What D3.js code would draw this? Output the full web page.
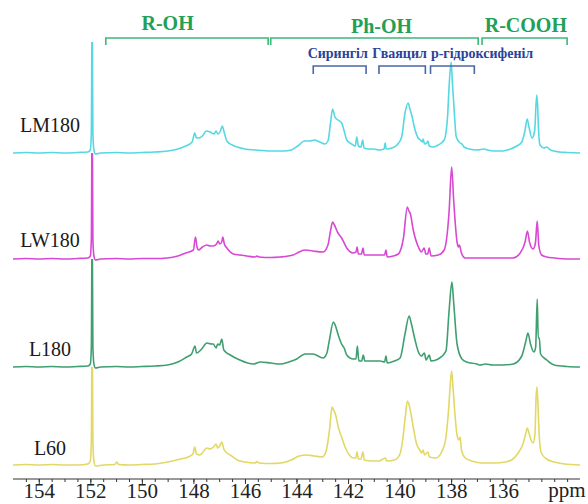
<!DOCTYPE html>
<html>
<head>
<meta charset="utf-8">
<script src="https://cdn.jsdelivr.net/npm/d3@7"></script>
<style>
  body { margin: 0; background: #fff; }
  svg { display: block; }
</style>
</head>
<body>
<svg id="chart" width="588" height="504"></svg>
<script>
/* 31P NMR spectra, four stacked samples */

// spectra: [ppm, intensity] (spike at ~151.9 is off scale)
const lm180 = [
  [155.0, 0], [154.5, 0.5], [154.0, 0], [153.5, 0.5], [153.0, 0], [152.5, 0.5], [152.1, 1],
  [152.0, 3], [151.96, 20], [151.93, 150], [151.9, 20], [151.86, 3], [151.8, -1], [151.6, 0],
  [151.0, 0.5], [150.5, 0], [150.0, 0.5], [149.5, 1], [149.0, 2], [148.6, 4], [148.3, 7],
  [148.05, 11], [147.95, 20], [147.88, 15], [147.8, 15], [147.65, 17], [147.5, 22], [147.35, 21],
  [147.2, 19], [147.12, 22], [147.05, 19], [146.95, 22], [146.88, 27], [146.8, 20], [146.7, 12],
  [146.5, 8], [146.3, 6], [146.0, 4], [145.6, 3], [145.0, 2], [144.5, 2], [144.2, 3],
  [143.9, 8], [143.7, 12], [143.5, 12], [143.3, 13], [143.1, 11], [142.9, 9], [142.78, 12],
  [142.68, 30], [142.6, 44], [142.55, 40], [142.51, 36], [142.39, 33], [142.25, 30], [142.15, 22],
  [142.05, 13], [141.86, 9], [141.72, 7], [141.66, 16], [141.6, 7], [141.5, 6], [141.43, 13],
  [141.38, 5], [141.2, 4], [141.0, 4], [140.8, 3], [140.6, 4], [140.56, 10], [140.52, 4],
  [140.3, 5], [140.1, 8], [139.92, 16], [139.79, 40], [139.67, 50], [139.6, 44], [139.53, 38],
  [139.4, 23], [139.28, 15], [139.2, 13], [139.12, 11], [139.09, 14], [139.03, 9], [138.95, 10],
  [138.9, 12], [138.85, 7], [138.7, 6], [138.5, 8], [138.27, 13], [138.14, 36], [138.08, 66],
  [138.0, 91], [137.95, 70], [137.9, 50], [137.8, 16], [137.65, 10], [137.58, 9], [137.5, 6],
  [137.3, 4], [137.0, 3], [136.7, 4], [136.6, 3], [136.3, 2], [136.0, 2], [135.7, 4],
  [135.45, 7], [135.26, 11], [135.13, 23], [135.05, 34], [134.98, 26], [134.86, 15], [134.76, 22],
  [134.68, 58], [134.64, 45], [134.62, 30], [134.55, 8], [134.4, 5], [134.29, 6], [134.15, 3],
  [133.8, 1], [133.5, 0.5], [133.0, 0]
];

const lw180 = [
  [155.0, 0], [154.5, 0.5], [154.0, 0], [153.5, 0.5], [153.0, 0], [152.5, 0.5], [152.1, 1],
  [152.0, 3], [151.96, 20], [151.93, 150], [151.9, 20], [151.86, 3], [151.8, -1], [151.6, 0],
  [151.0, 0.5], [150.5, 0], [150.0, 0.5], [149.5, 0.5], [149.02, 1], [148.6, 3], [148.3, 6],
  [148.0, 9], [147.92, 22], [147.86, 12], [147.8, 9], [147.65, 12], [147.48, 14], [147.35, 13],
  [147.24, 13], [147.1, 15], [147.04, 18], [146.98, 15], [146.9, 17], [146.86, 22], [146.8, 15],
  [146.7, 11], [146.45, 5], [146.2, 4], [145.93, 3], [145.6, 2], [145.54, 3], [145.45, 2],
  [145.0, 1.5], [144.64, 2], [144.13, 4], [143.9, 7], [143.67, 9], [143.36, 8], [142.97, 7],
  [142.78, 14], [142.68, 28], [142.6, 37], [142.53, 34], [142.39, 26], [142.25, 21], [142.05, 11],
  [141.81, 6], [141.69, 7], [141.65, 12], [141.6, 5], [141.48, 5], [141.42, 11], [141.37, 4],
  [141.0, 4], [140.76, 4], [140.58, 4], [140.53, 9], [140.48, 2], [140.25, 3], [140.05, 5],
  [139.85, 21], [139.7, 52], [139.64, 48], [139.59, 46], [139.47, 29], [139.27, 12], [139.15, 7],
  [139.05, 11], [138.98, 5], [138.91, 5], [138.85, 11], [138.78, 3], [138.5, 4], [138.27, 9],
  [138.08, 47], [137.98, 92], [137.9, 58], [137.77, 17], [137.72, 12], [137.68, 14], [137.6, 6],
  [137.46, 1], [137.0, 1], [136.5, 1], [136.0, 1], [135.6, 1], [135.32, 6], [135.13, 17],
  [135.04, 28], [134.96, 17], [134.82, 10], [134.73, 16], [134.66, 38], [134.6, 14], [134.49, 4],
  [134.29, 2], [134.0, 1], [133.5, 0], [133.0, 0]
];

const l180 = [
  [155.0, 0], [154.5, 0.5], [154.0, 0], [153.5, 0.5], [153.0, 0], [152.5, 0.5], [152.1, 1],
  [152.0, 3], [151.96, 20], [151.93, 150], [151.9, 20], [151.86, 3], [151.8, -1], [151.6, 0],
  [151.0, 0.5], [150.5, 0], [150.0, 0.5], [149.5, 1], [149.0, 2], [148.6, 5], [148.26, 10],
  [148.07, 13], [147.94, 21], [147.88, 14], [147.68, 18], [147.48, 24], [147.3, 23], [147.23, 23],
  [147.12, 19], [147.06, 23], [146.98, 22], [146.9, 28], [146.82, 17], [146.57, 12], [146.2, 7],
  [145.9, 4], [145.67, 3], [145.4, 5], [145.0, 4], [144.64, 3], [144.3, 5], [143.99, 8],
  [143.67, 13], [143.36, 13], [142.97, 9], [142.82, 14], [142.73, 26], [142.57, 45], [142.5, 42],
  [142.38, 32], [142.25, 23], [142.15, 19], [142.05, 12], [141.8, 8], [141.69, 8], [141.64, 21],
  [141.58, 6], [141.47, 6], [141.41, 12], [141.35, 6], [141.0, 6], [140.76, 6], [140.58, 5],
  [140.53, 11], [140.48, 4], [140.2, 6], [139.98, 9], [139.79, 33], [139.63, 51], [139.55, 44],
  [139.4, 27], [139.27, 15], [139.15, 11], [139.04, 14], [138.97, 7], [138.85, 12], [138.78, 6],
  [138.5, 8], [138.2, 16], [138.08, 56], [137.97, 85], [137.9, 64], [137.77, 23], [137.58, 8],
  [137.4, 5], [137.0, 3], [136.88, 2], [136.66, 3], [136.4, 2], [136.0, 2], [135.59, 3],
  [135.26, 11], [135.1, 26], [135.02, 34], [134.92, 23], [134.79, 15], [134.72, 20], [134.66, 68],
  [134.62, 29], [134.58, 29], [134.53, 13], [134.29, 7], [134.0, 2], [133.5, 0.5], [133.0, 0]
];

const l60 = [
  [155.0, 0], [154.5, 0.5], [154.0, 0], [153.5, 0.5], [153.0, 0], [152.5, 0], [152.1, 1],
  [152.0, 4], [151.96, 25], [151.93, 150], [151.9, 25], [151.86, 4], [151.8, -1], [151.5, 0],
  [151.05, 0.5], [150.98, 3], [150.9, 0.5], [150.5, 0], [150.0, 0.5], [149.5, 1], [149.0, 3],
  [148.5, 6], [148.2, 8], [148.02, 11], [147.95, 18], [147.88, 11], [147.75, 10], [147.6, 14],
  [147.48, 17], [147.35, 16], [147.22, 18], [147.12, 21], [147.06, 17], [146.98, 19], [146.9, 23],
  [146.82, 16], [146.7, 12], [146.57, 10], [146.3, 5], [146.0, 3], [145.6, 2], [145.54, 3.5],
  [145.45, 2], [145.0, 1.5], [144.6, 2], [144.2, 5], [143.9, 9], [143.6, 10], [143.3, 9],
  [143.0, 8], [142.85, 14], [142.72, 35], [142.62, 58], [142.56, 55], [142.48, 50], [142.38, 38],
  [142.25, 28], [142.1, 17], [141.95, 10], [141.8, 7], [141.7, 7], [141.65, 13], [141.6, 6],
  [141.5, 6], [141.42, 13], [141.37, 5], [141.1, 4], [140.8, 4], [140.55, 7], [140.5, 4],
  [140.2, 5], [140.0, 10], [139.88, 25], [139.78, 48], [139.7, 64], [139.63, 60], [139.55, 50],
  [139.45, 35], [139.35, 22], [139.22, 15], [139.15, 12], [139.09, 15], [139.03, 10], [138.95, 12],
  [138.9, 13], [138.84, 8], [138.6, 7], [138.35, 14], [138.2, 28], [138.1, 55], [138.02, 85],
  [137.98, 94], [137.92, 75], [137.85, 50], [137.77, 30], [137.7, 25], [137.65, 28], [137.6, 15],
  [137.45, 7], [137.2, 4], [136.8, 2], [136.3, 2], [135.9, 3], [135.6, 6], [135.4, 12],
  [135.2, 22], [135.1, 32], [135.04, 37], [134.98, 32], [134.9, 25], [134.82, 22], [134.75, 30],
  [134.7, 70], [134.67, 78], [134.63, 60], [134.58, 28], [134.5, 12], [134.3, 6], [134.0, 3],
  [133.6, 1], [133.0, 0]
];

const sampleNames = ['LM180', 'LW180', 'L180', 'L60'];
const sampleSpectra = [lm180, lw180, l180, l60];
const sampleColors = ['#55d8e2', '#d848d4', '#3f9f70', '#e2d866'];

const tickPpm = [154, 152, 150, 148, 146, 144, 142, 140, 138, 136];

// region brackets (ppm bounds) and where their titles sit
const groupNames = ['R-OH', 'Ph-OH', 'R-COOH'];
const groupRanges = [[151.4, 145.1], [145.0, 136.95], [136.8, 133.5]];
const groupLabelPpm = [149.0, 140.7, 135.1];

const unitNames = ['Сирингіл', 'Гваяцил', 'p-гідроксифеніл'];
const unitRanges = [[143.35, 141.3], [140.8, 139.0], [138.8, 137.1]];
const unitLabelPpm = [142.4, 140.0, 136.8];

const svg = d3.select('#chart');
const W = 588;

const x = d3.scaleLinear().domain([155, 133]).range([13, 580]);

// baseline of each trace, top of its clip (spike runs into the trace above)
const baselines = [153, 259, 367, 465];
const clipTops = [42, 153, 259, 367];

const line = d3.line().curve(d3.curveMonotoneX);

sampleSpectra.forEach((spec, i) => {
  const y = d3.scaleLinear().domain([0, 100]).range([baselines[i], baselines[i] - 100]);

  svg.append('clipPath').attr('id', 'clip' + i)
    .append('rect')
    .attr('x', 0).attr('y', clipTops[i])
    .attr('width', W).attr('height', 504 - clipTops[i]);

  svg.append('path')
    .attr('clip-path', `url(#clip${i})`)
    .attr('fill', 'none')
    .attr('stroke', sampleColors[i])
    .attr('stroke-width', 1.6)
    .attr('stroke-linejoin', 'round')
    .attr('d', line(spec.map(d => [x(d[0]), y(d[1])])));

  svg.append('text')
    .attr('x', 50).attr('y', baselines[i] - [21, 12, 11, 10][i])
    .attr('text-anchor', 'middle')
    .attr('font-family', '"Liberation Serif", serif')
    .attr('font-size', 20)
    .attr('fill', '#1a1a1a')
    .text(sampleNames[i]);
});

// x axis: minor ticks every 0.5 ppm, labelled every 2 ppm
const axisG = svg.append('g').attr('transform', 'translate(0,479)');
axisG.append('g')
  .call(d3.axisBottom(x).tickValues(d3.range(133.5, 155, 0.5)).tickSize(3).tickFormat(''))
  .call(g => g.select('.domain').remove());
axisG.append('g')
  .call(d3.axisBottom(x).tickValues(tickPpm).tickSize(5).tickFormat(d3.format('d')))
  .call(g => g.select('.domain').attr('d', `M${x(155)},0H${x(133)}`));
axisG.selectAll('path, line').attr('stroke', '#333').attr('stroke-width', 1);
axisG.selectAll('text')
  .attr('font-family', '"Liberation Serif", serif')
  .attr('font-size', 21)
  .attr('fill', '#222')
  .attr('y', 4)
  .attr('dy', '0.71em');

svg.append('text')
  .attr('x', 567).attr('y', 497)
  .attr('text-anchor', 'middle')
  .attr('font-family', '"Liberation Serif", serif')
  .attr('font-size', 21)
  .attr('fill', '#222')
  .text('ppm');

// brackets
function bracket(r, yTop, drop, color) {
  svg.append('path')
    .attr('fill', 'none')
    .attr('stroke', color)
    .attr('stroke-width', 1.6)
    .attr('d', `M${x(r[0])},${yTop + drop}V${yTop}H${x(r[1])}V${yTop + drop}`);
}

groupRanges.forEach((r, i) => {
  bracket(r, 38, 7, '#3cb878');
  svg.append('text')
    .attr('x', x(groupLabelPpm[i])).attr('y', [30, 33, 32][i])
    .attr('text-anchor', 'middle')
    .attr('font-family', '"Liberation Serif", serif')
    .attr('font-weight', 'bold')
    .attr('font-size', 20)
    .attr('fill', '#22a055')
    .text(groupNames[i]);
});

unitRanges.forEach((r, i) => {
  bracket(r, 66, 8, '#4a67a8');
  svg.append('text')
    .attr('x', x(unitLabelPpm[i])).attr('y', 58)
    .attr('text-anchor', 'middle')
    .attr('font-family', '"Liberation Serif", serif')
    .attr('font-weight', 'bold')
    .attr('font-size', 14)
    .attr('fill', '#2a429c')
    .text(unitNames[i]);
});
</script>
</body>
</html>
